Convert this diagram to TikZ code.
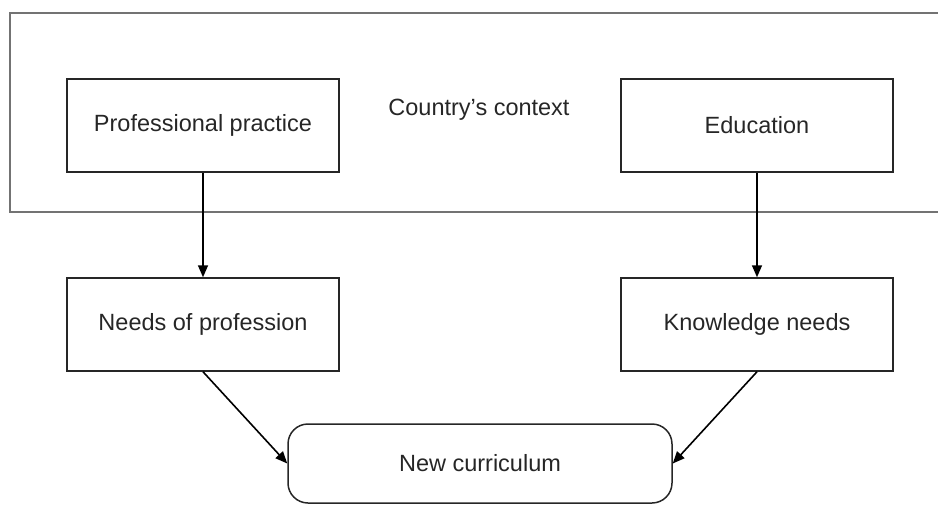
\documentclass[tikz,border=0pt]{standalone}
\usepackage{fontspec}
\setmainfont{Liberation Sans}
\usetikzlibrary{arrows.meta}

\tikzset{
  box/.style={draw=black!85,line width=1.5pt,rectangle,minimum width=272pt,minimum height=93pt,align=center,inner sep=0pt},
  flow/.style={draw=black,line width=1.6pt,-{Triangle[length=12pt,width=10pt]}}
}

\begin{document}
\begin{tikzpicture}[x=1pt,y=-1pt,font=\fontsize{23.5}{27}\selectfont,text=black!85]
\useasboundingbox (0,0) rectangle (938,504);

\draw[draw=black!55,line width=1.6pt] (938,13) -- (10,13) -- (10,212) -- (938,212);
\node (ctx) at (479,110) {Country's context};

\node[box] (prac) at (203,125.5) {Professional practice};
\node[box] (edu) at (757,125.5) {Education};
\node[box] (need) at (203,324.5) {Needs of profession};
\node[box] (know) at (757,324.5) {Knowledge needs};
\node[box,rounded corners=20pt,minimum width=384pt,minimum height=79pt] (curr) at (480,463.5) {New curriculum};

\draw[flow] (prac) -- (need);
\draw[flow] (edu) -- (know);
\draw[flow] (need.south) -- (curr.west);
\draw[flow] (know.south) -- (curr.east);
\end{tikzpicture}
\end{document}
